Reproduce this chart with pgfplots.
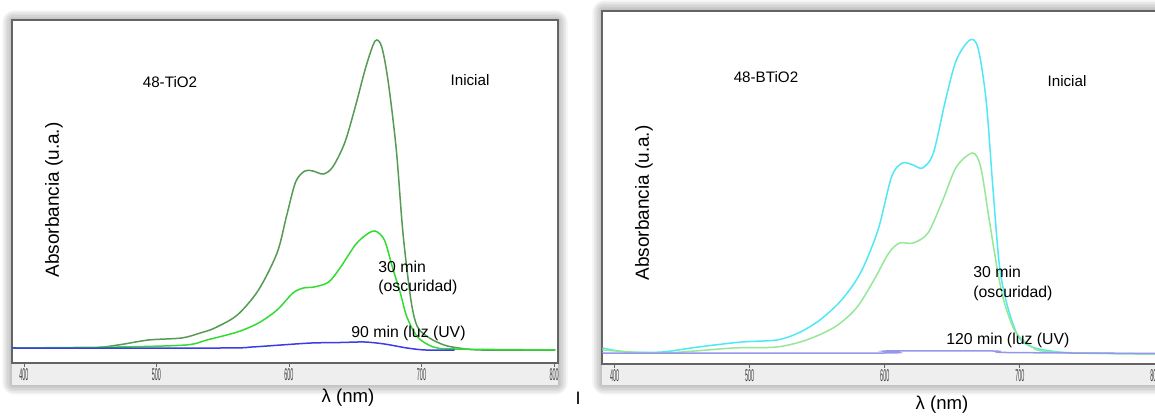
\documentclass[border=0pt]{standalone}
\usepackage{pgfplots}
\pgfplotsset{compat=1.18}
\usepackage{fontspec}
\setmainfont{Liberation Sans}
\definecolor{iniA}{RGB}{85,155,85}
\definecolor{darkA}{RGB}{50,220,50}
\definecolor{uvA}{RGB}{60,60,230}
\definecolor{iniB}{RGB}{80,232,245}
\definecolor{darkB}{RGB}{150,232,150}
\definecolor{uvB}{RGB}{150,150,235}
\definecolor{band}{RGB}{238,238,238}
\definecolor{frame}{RGB}{100,100,100}
\definecolor{ticklab}{RGB}{60,60,60}
\begin{document}
\begin{tikzpicture}
\path[use as bounding box] (0pt,0pt) rectangle (577.5pt,208.5pt);
% soft shadows
\foreach \i in {1,...,6}{
  \fill[black,opacity=0.045,rounded corners=\i pt] (6pt-\i*0.8pt,16pt-\i*0.8pt) rectangle (279pt+\i*0.8pt,198.5pt+\i*0.8pt);
  \fill[black,opacity=0.045,rounded corners=\i pt] (301pt-\i*0.8pt,16pt-\i*0.8pt) rectangle (585pt+\i*0.8pt,203.5pt+\i*0.8pt);
}
\fill[white] (6pt,16pt) rectangle (279pt,198.5pt);
\fill[white] (301pt,16pt) rectangle (585pt,203.5pt);
\fill[band] (6pt,16pt) rectangle (279pt,27pt);
\fill[band] (301pt,16pt) rectangle (585pt,26.5pt);
% left axis
\begin{axis}[
  at={(6pt,27pt)}, anchor=south west, scale only axis,
  width=273pt, height=171.5pt,
  xmin=391, xmax=803, ymin=-13, ymax=330,
  axis line style={frame, line width=0.6pt},
  xtick={400,500,600,700,800}, ytick=\empty, xtick pos=bottom,
  tick align=outside, major tick length=2pt,
  tick style={frame, line width=0.4pt},
  xticklabel={\scalebox{0.32}[1]{\pgfmathprintnumber[assume math mode=true]{\tick}}},
  xticklabel style={font=\fontsize{8.5}{8.5}\selectfont, text=ticklab, inner sep=0.6pt},
  every axis plot/.append style={line width=0.75pt, smooth},
]
\addplot[iniA] coordinates {
(391,2)(449,2)(471,5)(494,10)(519,12)(533,17)(544,22)(561,35)(577,60)(591,97)(598,133)(605,168)(612,179)(618,179)(626,176)(633,183)(642,207)(650,243)(658,283)(665,309)(670,303)(675,267)(681,200)(686,117)(692,50)(697,23)(706,12)(717,5)(728,2)(745,0)(801,0)};
\addplot[darkA] coordinates {
(391,2)(471,3)(522,5)(538,10)(561,18)(577,27)(591,40)(603,57)(611,62)(619,63)(630,68)(639,83)(650,105)(658,115)(665,119)(672,110)(678,83)(684,57)(689,33)(697,13)(709,3)(725,1)(801,0)};
\addplot[uvA] coordinates {
(391,2)(549,2)(572,3)(594,5)(617,7)(639,7.5)(657,8)(672,6)(689,2)(703,0)(725,0)};
\end{axis}
% right axis
\begin{axis}[
  at={(301pt,26.5pt)}, anchor=south west, scale only axis,
  width=279.85pt, height=176.5pt,
  xmin=390.7, xmax=805, ymin=-10, ymax=343,
  axis line style={frame, line width=0.6pt},
  xtick={400,500,600,700,800}, ytick=\empty, xtick pos=bottom,
  tick align=outside, major tick length=2pt,
  tick style={frame, line width=0.4pt},
  xticklabel={\scalebox{0.32}[1]{\pgfmathprintnumber[assume math mode=true]{\tick}}},
  xticklabel style={font=\fontsize{8.5}{8.5}\selectfont, text=ticklab, inner sep=0.6pt},
  every axis plot/.append style={line width=0.75pt, smooth},
]
\addplot[iniB] coordinates {
(391,6)(409,2)(435,2)(462,7)(494,12)(520,14)(536,21)(552,34)(568,54)(582,81)(595,124)(605,177)(613,191)(621,189)(628,186)(636,201)(645,254)(653,294)(663,314)(669,306)(675,254)(680,167)(685,87)(691,47)(699,17)(709,7)(723,3)(741,1)(805,0)};
\addplot[darkB] coordinates {
(391,4)(435,1)(488,6)(520,7)(542,14)(563,27)(579,46)(592,74)(603,101)(611,111)(621,111)(632,121)(643,154)(653,187)(665,201)(671,187)(677,137)(683,87)(688,54)(696,24)(707,9)(723,2)(805,0)};
\addplot[uvB] coordinates {
(391,1)(600,1)(601,3)(680,3)(690,1.5)(805,0.5)};
\end{axis}
% texts (left)
\node[font=\fontsize{7.6}{9}\selectfont] at (85pt,167.5pt) {48-TiO2};
\node[font=\fontsize{7.6}{9}\selectfont] at (235pt,168.5pt) {Inicial};
\node[font=\fontsize{7.9}{9.7}\selectfont, align=left, anchor=west, inner sep=0pt] at (189pt,69.5pt) {30 min\\(oscuridad)};
\node[font=\fontsize{7.9}{9}\selectfont, anchor=west, inner sep=0pt] at (175.5pt,42pt) {90 min (luz (UV)};
\node[font=\fontsize{9.5}{11}\selectfont, rotate=90] at (27pt,108.5pt) {Absorbancia (u.a.)};
\node[font=\fontsize{9.3}{11}\selectfont] at (174pt,9.5pt) {λ (nm)};
\node[font=\fontsize{9}{11}\selectfont] at (289pt,9.5pt) {I};
% texts (right)
\node[font=\fontsize{7.6}{9}\selectfont] at (383pt,170pt) {48-BTiO2};
\node[font=\fontsize{7.6}{9}\selectfont] at (533.5pt,168pt) {Inicial};
\node[font=\fontsize{7.9}{9.7}\selectfont, align=left, anchor=west, inner sep=0pt] at (486.5pt,66.75pt) {30 min\\(oscuridad)};
\node[font=\fontsize{7.9}{9}\selectfont, anchor=west, inner sep=0pt] at (473pt,38.5pt) {120 min (luz (UV)};
\node[font=\fontsize{9.5}{11}\selectfont, rotate=90] at (322pt,107pt) {Absorbancia (u.a.)};
\node[font=\fontsize{9.3}{11}\selectfont] at (471pt,6pt) {λ (nm)};
\end{tikzpicture}
\end{document}
